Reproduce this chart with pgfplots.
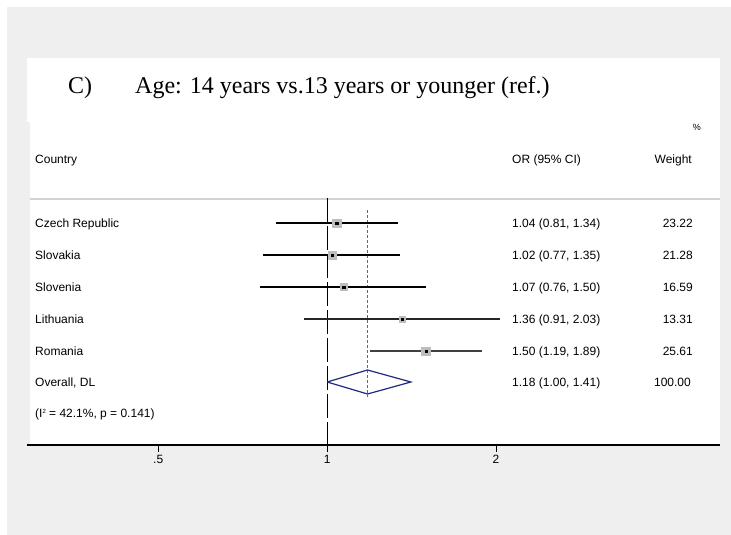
\documentclass[border=0pt]{standalone}
\usepackage{pgfplots}
\pgfplotsset{compat=1.18}
\usepackage{fontspec}
\setmainfont{Liberation Sans}
\newfontfamily\titlefont{Liberation Serif}
\definecolor{bg}{HTML}{EFEFEF}
\definecolor{sep}{HTML}{D2D2D2}
\definecolor{ovl}{HTML}{B24A4A}
\definecolor{dia}{HTML}{1F2A80}
\definecolor{sq}{HTML}{BDBDBD}
\newcommand{\sm}{\fontsize{12}{14}\selectfont}
\begin{document}
\begin{tikzpicture}
\path[use as bounding box] (0pt,0pt) rectangle (731pt,535pt);
\begin{scope}[x=1pt,y=1pt]
\fill[white] (0,0) rectangle (731,535);
\fill[bg] (7,0) rectangle (731,528);
\fill[white] (27,413) rectangle (720,477);
\fill[white] (30,90) rectangle (720,413);
\draw[sep, line width=1.5pt] (30,336) -- (720,336);
\end{scope}
\begin{axis}[at={(27pt,90pt)}, anchor=south west, scale only axis,
  width=693pt, height=323pt,
  xmode=log, log basis x=2, xmin=0.2918, xmax=5.013,
  ymin=122, ymax=445, y dir=reverse,
  axis x line*=bottom, axis y line=none,
  xtick={0.5,1,2}, xticklabels={.5,1,2},
  x tick label style={font=\sm},
  tick align=outside, major tick length=7pt,
  tick style={black, line width=1pt},
  axis line style={black, line width=1.3pt},
  clip=false]
% null line
\addplot[black, line width=1.3pt, dash pattern=on 24pt off 4pt] coordinates {(1,198) (1,445)};
% overall effect line
\addplot[ovl, line width=1pt, dash pattern=on 3pt off 2pt] coordinates {(1.18,210) (1.18,397)};
% confidence intervals
\addplot[black, line width=1.2pt] coordinates {(0.81,223) (1.34,223)};
\addplot[black, line width=1.2pt] coordinates {(0.77,255) (1.35,255)};
\addplot[black, line width=1.2pt] coordinates {(0.76,287) (1.50,287)};
\addplot[black!85, line width=1.2pt] coordinates {(0.91,319) (2.03,319)};
\addplot[black!75, line width=1.2pt] coordinates {(1.19,351) (1.89,351)};
% weight squares
\addplot[sq, only marks, mark=square*, mark size=4.2pt] coordinates {(1.04,223)};
\addplot[sq, only marks, mark=square*, mark size=3.9pt] coordinates {(1.02,255)};
\addplot[sq, only marks, mark=square*, mark size=3.4pt] coordinates {(1.07,287)};
\addplot[sq, only marks, mark=square*, mark size=3.1pt] coordinates {(1.36,319)};
\addplot[sq, only marks, mark=square*, mark size=4.3pt] coordinates {(1.50,351)};
% point estimates
\addplot[black, only marks, mark=square*, mark size=1.2pt] coordinates {(1.04,223) (1.02,255) (1.07,287) (1.36,319) (1.50,351)};
% overall diamond
\addplot[dia, line width=1.2pt] coordinates {(1.00,382) (1.18,370) (1.41,382) (1.18,394) (1.00,382)};
\end{axis}
\begin{scope}[x=1pt,y=1pt]
% title
\node[anchor=base west, inner sep=0pt, font=\titlefont\fontsize{24}{28}\selectfont] at (68,441) {C)};
\node[anchor=base west, inner sep=0pt, font=\titlefont\fontsize{24}{28}\selectfont] at (135,441) {Age: 14 years vs.13 years or younger (ref.)};
% header
\node[anchor=base east, inner sep=0pt, font=\fontsize{9}{10}\selectfont] at (701,404) {\%};
\node[anchor=base west, inner sep=0pt, font=\sm] at (35,371.5) {Country};
\node[anchor=base west, inner sep=0pt, font=\sm] at (512,371.5) {OR (95\% CI)};
\node[anchor=base east, inner sep=0pt, font=\sm] at (692,371.5) {Weight};
% rows
\foreach \yy/\cn/\ci/\wt in {307.7/Czech Republic/{1.04 (0.81, 1.34)}/23.22,
  275.7/Slovakia/{1.02 (0.77, 1.35)}/21.28,
  243.7/Slovenia/{1.07 (0.76, 1.50)}/16.59,
  211.7/Lithuania/{1.36 (0.91, 2.03)}/13.31,
  179.7/Romania/{1.50 (1.19, 1.89)}/25.61}{
  \node[anchor=base west, inner sep=0pt, font=\sm] at (35,\yy) {\cn};
  \node[anchor=base west, inner sep=0pt, font=\sm] at (512,\yy) {\ci};
  \node[anchor=base east, inner sep=0pt, font=\sm] at (693,\yy) {\wt};
}
\node[anchor=base west, inner sep=0pt, font=\sm] at (35,148.7) {Overall, DL};
\node[anchor=base west, inner sep=0pt, font=\sm] at (512,148.7) {1.18 (1.00, 1.41)};
\node[anchor=base east, inner sep=0pt, font=\sm] at (691,148.7) {100.00};
\node[anchor=base west, inner sep=0pt, font=\sm] at (35,117) {(I\raisebox{4.5pt}{\fontsize{6}{6}\selectfont 2} = 42.1\%, p = 0.141)};
\end{scope}
\end{tikzpicture}
\end{document}
